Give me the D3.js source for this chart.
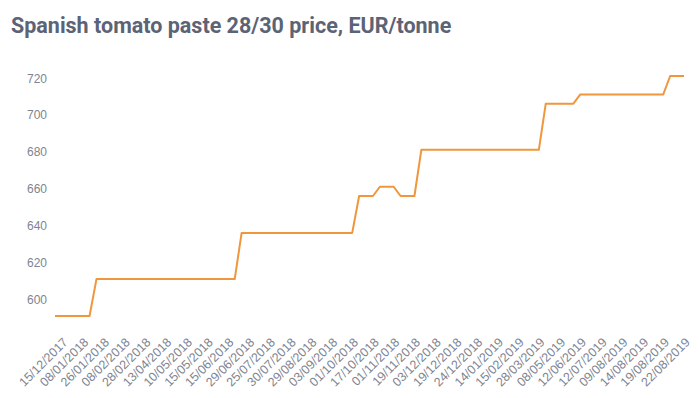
<!DOCTYPE html>
<html>
<head>
<meta charset="utf-8">
<script src="https://cdn.jsdelivr.net/npm/d3@7"></script>
<style>
  html, body { margin: 0; padding: 0; background: #fff; }
  svg { display: block; font-family: Roboto, "Noto Sans", sans-serif; }
  .title { font-size: 21.5px; font-weight: 700; fill: #5b6375; }
  .axis text { font-size: 12px; fill: #7e8491; }
  .x-axis text { font-size: 12.5px; }
  .axis .domain, .axis line { display: none; }
  .price-line { fill: none; stroke: #f0963c; stroke-width: 2; stroke-linejoin: round; }
</style>
</head>
<body>
<svg id="chart" width="700" height="398"></svg>
<script>
  /* ── Data ───────────────────────────────────────────────────────────────── */
  // one label for every third observation
  const tickLabels = [
    '15/12/2017', '08/01/2018', '26/01/2018', '08/02/2018', '28/02/2018',
    '13/04/2018', '10/05/2018', '15/05/2018', '15/06/2018', '29/06/2018',
    '25/07/2018', '30/07/2018', '29/08/2018', '03/09/2018', '01/10/2018',
    '17/10/2018', '01/11/2018', '19/11/2018', '03/12/2018', '19/12/2018',
    '24/12/2018', '14/01/2019', '15/02/2019', '28/03/2019', '08/05/2019',
    '12/06/2019', '12/07/2019', '09/08/2019', '14/08/2019', '19/08/2019',
    '22/08/2019'
  ];

  const prices = [
    590, 590, 590, 590, 590, 590,
    610, 610, 610, 610, 610, 610, 610, 610, 610, 610, 610,
    610, 610, 610, 610, 610, 610, 610, 610, 610, 610,
    635, 635, 635, 635, 635, 635, 635, 635, 635,
    635, 635, 635, 635, 635, 635, 635, 635,
    655, 655, 655,
    660, 660, 660,
    655, 655, 655,
    680, 680, 680, 680, 680, 680, 680, 680, 680,
    680, 680, 680, 680, 680, 680, 680, 680, 680,
    705, 705, 705, 705, 705,
    710, 710, 710, 710, 710, 710, 710, 710, 710, 710, 710, 710, 710,
    720, 720, 720
  ];

  const yTicks = [600, 620, 640, 660, 680, 700, 720];

  /* ── Layout ─────────────────────────────────────────────────────────────── */
  const PLOT = { left: 55, right: 684, top: 76, bottom: 316 };

  const svg = d3.select('#chart');

  const x = d3.scaleLinear()
    .domain([0, prices.length - 1])
    .range([PLOT.left, PLOT.right]);

  const y = d3.scaleLinear()
    .domain([590, 720])
    .range([PLOT.bottom, PLOT.top]);

  svg.append('text')
    .attr('class', 'title')
    .attr('x', 11)
    .attr('y', 33)
    .text('Spanish tomato paste 28/30 price, EUR/tonne');

  /* y axis */
  svg.append('g')
    .attr('class', 'axis y-axis')
    .attr('transform', 'translate(47,0)')
    .call(d3.axisLeft(y).tickValues(yTicks).tickSize(0).tickPadding(0))
    .selectAll('text')
    .attr('dy', '0.5em');

  /* x axis: labels on every third point */
  svg.append('g')
    .attr('class', 'axis x-axis')
    .attr('transform', `translate(0,${PLOT.bottom})`)
    .call(d3.axisBottom(x)
      .tickValues(tickLabels.map((_, i) => i * 3))
      .tickFormat(i => tickLabels[i / 3])
      .tickSize(0))
    .selectAll('text')
    .attr('text-anchor', 'end')
    .attr('dy', null)
    .attr('y', 0)
    .attr('transform', 'translate(13,27) rotate(-45)');

  /* price line */
  svg.append('path')
    .datum(prices)
    .attr('class', 'price-line')
    .attr('d', d3.line()
      .x((d, i) => x(i))
      .y(d => y(d)));
</script>
</body>
</html>
